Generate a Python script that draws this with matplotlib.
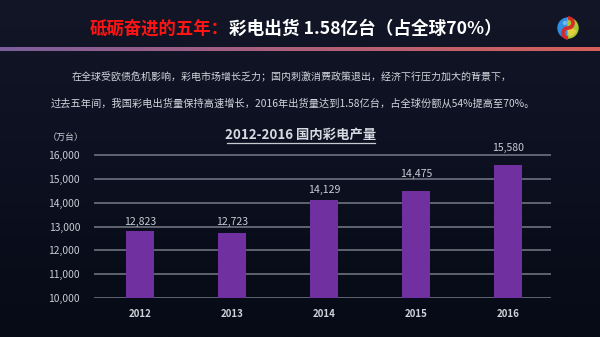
import numpy as np
import matplotlib
matplotlib.use("Agg")
import matplotlib.pyplot as plt
from matplotlib.colors import LinearSegmentedColormap
from matplotlib.patches import Circle, Wedge, Arc

plt.rcParams['font.family'] = ['Noto Sans CJK SC', 'DejaVu Sans']

# 2012-2016 国内彩电产量（万台）
years = ["2012", "2013", "2014", "2015", "2016"]
output = [12823, 12723, 14129, 14475, 15580]
y_ticks = [10000, 11000, 12000, 13000, 14000, 15000, 16000]

heading_red = "砥砺奋进的五年："
heading_white = "彩电出货 1.58亿台（占全球70%）"
para_1 = "在全球受欧债危机影响，彩电市场增长乏力；国内刺激消费政策退出，经济下行压力加大的背景下，"
para_2 = "过去五年间，我国彩电出货量保持高速增长，2016年出货量达到1.58亿台，占全球份额从54%提高至70%。"
chart_title = "2012-2016 国内彩电产量"
unit_label = "（万台）"

W, H = 600, 337
fig = plt.figure(figsize=(W / 100, H / 100), dpi=100)

# background layer in pixel coordinates
bg = fig.add_axes([0, 0, 1, 1], zorder=-1)
bg.axis("off")
bg_cmap = LinearSegmentedColormap.from_list("bg", ["#121626", "#0c1020", "#070b16"])
bg.imshow(np.linspace(0, 1, 256).reshape(-1, 1), cmap=bg_cmap, aspect="auto",
          extent=[0, W, H, 0])

# gradient rule under the heading
rule_cmap = LinearSegmentedColormap.from_list("rule", ["#7c5e9c", "#b0607a", "#d6605a"])
bg.imshow(np.linspace(0, 1, 256).reshape(1, -1), cmap=rule_cmap, aspect="auto",
          extent=[0, W, 51.5, 48])

# logo: blue / green-yellow sphere with a red swirl
cx, cy, r = 568, 28, 10
bg.add_patch(Wedge((cx, cy), r, 90, 270, color="#2d8fe2"))
bg.add_patch(Wedge((cx, cy), r, 270, 90, color="#a6c834"))
bg.add_patch(Wedge((cx, cy), r * 0.8, 20, 80, color="#e6cf3c"))
bg.add_patch(Arc((cx, cy - r / 2), r, r, theta1=270, theta2=90, color="#d8282a", lw=2.6))
bg.add_patch(Arc((cx, cy + r / 2), r, r, theta1=90, theta2=270, color="#d8282a", lw=2.6))
bg.add_patch(Circle((cx - 3, cy - 5), 2.2, color="#ffffff", alpha=0.35, lw=0))
bg.set_xlim(0, W)
bg.set_ylim(H, 0)

# heading
fig.text(229 / W, 1 - 29 / H, heading_red, color="#ff1414", fontsize=12.5,
         fontweight="bold", ha="right", va="center")
fig.text(229 / W, 1 - 29 / H, heading_white, color="#ffffff", fontsize=12.7,
         fontweight="bold", ha="left", va="center")

# intro paragraph
fig.text(72 / W, 1 - 77 / H, para_1, color="#d4d6de", fontsize=7.2, ha="left", va="center")
fig.text(51 / W, 1 - 104 / H, para_2, color="#d4d6de", fontsize=7.35, ha="left", va="center")

# chart title with underline
fig.text(301 / W, 1 - 135 / H, chart_title, color="#d8dae2", fontsize=9.6,
         fontweight="bold", ha="center", va="center")
bg.plot([227, 375], [142.5, 142.5], color="#c8cad2", lw=0.9)

fig.text(66 / W, 1 - 137 / H, unit_label, color="#c8ccd4", fontsize=6.5,
         ha="center", va="center")

# bar chart
y_lo, y_hi = 10000, 16050
px_per_unit = (298 - 155) / 6000
top_px = 298 - (y_hi - y_lo) * px_per_unit
ax = fig.add_axes([94 / W, 1 - 298 / H, (551 - 94) / W, (298 - top_px) / H])
ax.patch.set_alpha(0)
ax.set_xlim(-0.5, 4.47)
ax.set_ylim(y_lo, y_hi)

x = np.arange(len(years))
ax.bar(x, output, width=0.31, bottom=0, color="#7030a0", zorder=3)

label_offsets = [9, 11.5, 9.5, 17.5, 17]
for xi, val, off in zip(x, output, label_offsets):
    ax.annotate(f"{val:,}", (xi, val), xytext=(0, off * 0.72), textcoords="offset points",
                ha="center", va="center", color="#c8ccd4", fontsize=7.6)

ax.set_yticks(y_ticks)
ax.set_yticklabels([f"{t:,}" for t in y_ticks])
ax.set_xticks(x)
ax.set_xticklabels(years, fontweight="bold")
ax.tick_params(axis="y", length=0, pad=10, labelsize=7.4, labelcolor="#c8ccd4")
ax.tick_params(axis="x", length=0, pad=8, labelsize=7, labelcolor="#d0d2da")
ax.yaxis.grid(True, color="#666a76", lw=1.3, zorder=0)
ax.set_axisbelow(True)
for s in ax.spines.values():
    s.set_visible(False)

fig.savefig("out.png", dpi=100, facecolor="#0c1020")
